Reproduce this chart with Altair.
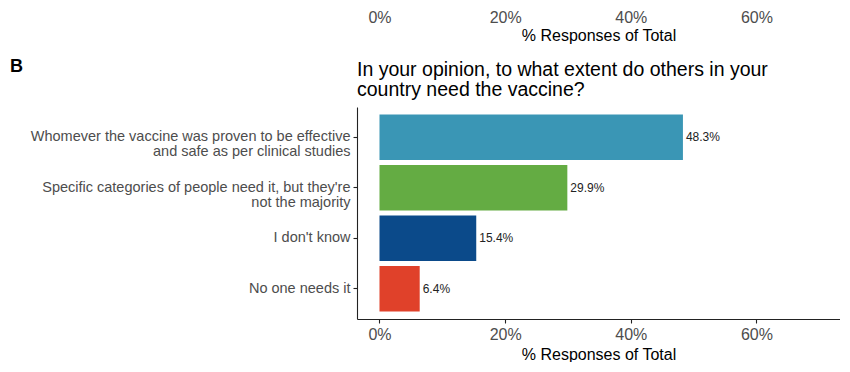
import altair as alt
import pandas as pd

categories = [
    "Whomever the vaccine was proven to be effective|and safe as per clinical studies",
    "Specific categories of people need it, but they're|not the majority",
    "I don't know",
    "No one needs it",
]
values = [48.3, 29.9, 15.4, 6.4]
colors = ["#3A96B5", "#64AC43", "#0B4A8A", "#E0412A"]
x_ticks = [0, 20, 40, 60]
x_domain = [-3.58, 73.3]
panel_label = "B"
question = ["In your opinion, to what extent do others in your", "country need the vaccine?"]
axis_title = "% Responses of Total"

df = pd.DataFrame({"cat": categories, "val": values, "lab": [f"{v:.1f}%" for v in values]})

FONT = "Liberation Sans"
W = 483

xscale = alt.Scale(domain=x_domain, nice=False, zero=False)

def xaxis(domain=True, ticks=True, pad=3, tpad=4):
    return alt.Axis(
        values=x_ticks, labelExpr="datum.value + '%'", title=axis_title,
        grid=False, domain=domain, ticks=ticks, domainColor="#222", tickColor="#222",
        domainWidth=1.1, tickWidth=1.1, tickSize=4,
        labelFontSize=16, labelColor="#4D4D4D", labelFont=FONT, labelPadding=pad,
        titleFontSize=16, titleColor="black", titleFont=FONT, titleFontWeight="normal",
        titlePadding=tpad,
    )

top = alt.Chart(df).mark_rule(opacity=0).encode(
    x=alt.X("val:Q", scale=xscale, axis=xaxis(domain=False, ticks=False, pad=0, tpad=2))
).properties(width=W, height=1)

yenc = alt.Y(
    "cat:N", sort=categories,
    scale=alt.Scale(paddingInner=0.1, paddingOuter=0.15),
    axis=alt.Axis(
        title=None, labelExpr="split(datum.label, '|')", labelFontSize=14.5,
        labelColor="#4D4D4D", labelFont=FONT, labelLimit=500, labelLineHeight=15,
        domainColor="#222", tickColor="#222", domainWidth=1.1, tickWidth=1.1,
        tickSize=4, labelPadding=3,
    ),
)

bars = alt.Chart(df).mark_bar().encode(
    x=alt.X("val:Q", scale=xscale, axis=xaxis()),
    y=yenc,
    color=alt.Color("cat:N", scale=alt.Scale(domain=categories, range=colors), legend=None),
)
texts = alt.Chart(df).mark_text(align="left", dx=3, fontSize=12, color="#222", font=FONT).encode(
    x="val:Q", y=alt.Y("cat:N", sort=categories), text="lab:N"
)
blabel = alt.Chart(pd.DataFrame({"t": [panel_label]})).mark_text(
    align="left", baseline="alphabetic", fontSize=18, fontWeight="bold", color="black", font=FONT
).encode(text="t:N", x=alt.value(-347), y=alt.value(-35))

main = alt.layer(bars, texts, blabel).properties(
    width=W, height=212,
    title=alt.TitleParams(question, anchor="start", frame="group", fontSize=19.5, fontWeight="normal",
                          color="black", font=FONT, lineHeight=20, offset=8, dy=50),
)

chart = alt.vconcat(top, main, spacing=15).properties(
    padding={"left": 2, "top": 0, "right": 0, "bottom": 0},
).configure_view(stroke=None)

chart.save("out.html", embed_options={"renderer": "svg", "actions": False})
